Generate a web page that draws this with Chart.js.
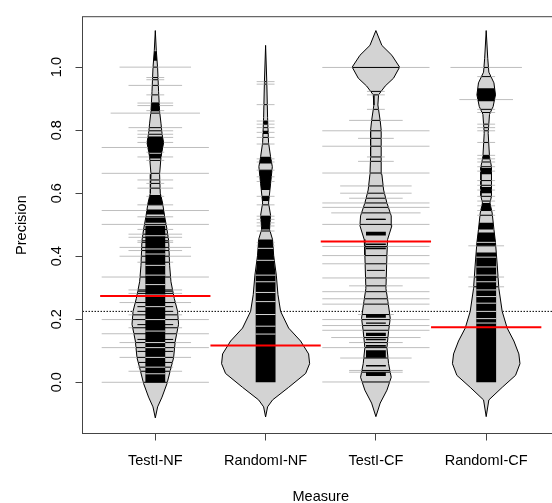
<!DOCTYPE html>
<html>
<head>
<meta charset="utf-8">
<script src="https://cdn.jsdelivr.net/npm/chart.js@4.4.1/dist/chart.umd.min.js"></script>
<style>
  html, body { margin: 0; padding: 0; background: #fff; overflow: hidden; }
  #wrap { width: 552px; height: 503px; overflow: hidden; }
</style>
</head>
<body>
<div id="wrap"><canvas id="beanChart" width="560" height="503"></canvas></div>
<script>
const categories = ['TestI-NF', 'RandomI-NF', 'TestI-CF', 'RandomI-CF'];
const yTicks = [0, 0.2, 0.4, 0.6, 0.8, 1.0];
const groupMeans = [0.274, 0.117, 0.447, 0.175];
const overallMean = 0.225;

// bean outline: precision value and half width of the density (x units)
const testNFBeanY = [-0.113, -0.078, -0.047, -0.004, 0.0375, 0.078, 0.131, 0.184, 0.225, 0.266, 0.319, 0.37, 0.45, 0.485, 0.528, 0.569, 0.6, 0.66, 0.716, 0.76, 0.79, 0.82, 0.86, 0.922, 0.997, 1.053, 1.116];
const testNFBeanW = [0, 0.021, 0.061, 0.106, 0.136, 0.166, 0.181, 0.211, 0.202, 0.172, 0.142, 0.130, 0.121, 0.106, 0.084, 0.066, 0.045, 0.039, 0.052, 0.075, 0.061, 0.052, 0.039, 0.030, 0.021, 0.009, 0];
const randomNFBeanY = [-0.11, -0.078, -0.056, -0.016, 0.028, 0.059, 0.09, 0.131, 0.172, 0.225, 0.278, 0.34, 0.403, 0.453, 0.485, 0.53, 0.569, 0.63, 0.684, 0.716, 0.76, 0.84, 0.95, 1.069];
const randomNFBeanW = [0, 0.018, 0.063, 0.209, 0.363, 0.399, 0.390, 0.317, 0.209, 0.136, 0.112, 0.097, 0.073, 0.063, 0.036, 0.045, 0.027, 0.045, 0.061, 0.045, 0.027, 0.018, 0.011, 0];
const testCFBeanY = [-0.109, -0.066, -0.025, 0.016, 0.059, 0.11, 0.162, 0.203, 0.256, 0.297, 0.403, 0.453, 0.497, 0.528, 0.569, 0.61, 0.66, 0.716, 0.8, 0.83, 0.88, 0.912, 0.94, 0.965, 1.0, 1.0375, 1.069, 1.116];
const testCFBeanW = [0, 0.039, 0.100, 0.139, 0.115, 0.100, 0.115, 0.130, 0.109, 0.091, 0.100, 0.106, 0.145, 0.139, 0.100, 0.070, 0.054, 0.048, 0.048, 0.039, 0.018, 0.024, 0.084, 0.160, 0.215, 0.145, 0.054, 0];
const randomCFBeanY = [-0.109, -0.056, -0.016, 0.022, 0.059, 0.09, 0.131, 0.172, 0.225, 0.297, 0.372, 0.444, 0.485, 0.537, 0.569, 0.59, 0.684, 0.716, 0.79, 0.85, 0.875, 0.912, 0.95, 0.984, 1.028, 1.116];
const randomCFBeanW = [0, 0.024, 0.145, 0.266, 0.306, 0.296, 0.251, 0.190, 0.145, 0.115, 0.100, 0.084, 0.070, 0.054, 0.034, 0.048, 0.048, 0.030, 0.018, 0.030, 0.063, 0.084, 0.070, 0.024, 0.014, 0];

// dense runs of beanlines (shown solid black inside the bean)
const testNFBlocks = [[0, 0.497], [0.506, 0.522], [0.532, 0.548], [0.563, 0.594], [0.71, 0.725], [0.73, 0.78], [0.86, 0.887], [1.02, 1.05]];
const randomNFBlocks = [[0, 0.453], [0.485, 0.528], [0.575, 0.59], [0.61, 0.673], [0.694, 0.716], [0.788, 0.798], [0.819, 0.829]];
const testCFBlocks = [[0.02, 0.032], [0.05, 0.055], [0.078, 0.102], [0.113, 0.118], [0.133, 0.138], [0.147, 0.157], [0.186, 0.19], [0.205, 0.215], [0.422, 0.428], [0.436, 0.44], [0.466, 0.478], [0.515, 0.519]];
const randomCFBlocks = [[0, 0.412], [0.434, 0.475], [0.485, 0.506], [0.547, 0.569], [0.6, 0.62], [0.66, 0.68], [0.709, 0.72], [0.892, 0.933]];

// light breaks seen inside the black runs
const testNFBreaks = [0.027, 0.048, 0.079, 0.11, 0.126, 0.1625, 0.199, 0.24, 0.277, 0.31, 0.34, 0.371, 0.407, 0.423, 0.465];
const randomNFBreaks = [0.153, 0.178, 0.215, 0.256, 0.285, 0.319, 0.34, 0.387, 0.425];
const testCFBreaks = [];
const randomCFBreaks = [0.188, 0.202, 0.225, 0.251, 0.272, 0.293, 0.319, 0.34, 0.366, 0.397, 0.444];

// single beanlines: value and number of ties (longer line = more ties)
const testNFLines = [0.0, 0.035, 0.048, 0.063, 0.079, 0.098, 0.11, 0.126, 0.136, 0.154, 0.173, 0.183, 0.199, 0.214, 0.225, 0.24, 0.253, 0.282, 0.289, 0.293, 0.334, 0.37, 0.381, 0.4, 0.418, 0.428, 0.444, 0.449, 0.46, 0.47, 0.485, 0.501, 0.525, 0.545, 0.563, 0.59, 0.616, 0.631, 0.642, 0.663, 0.704, 0.715, 0.73, 0.745, 0.761, 0.777, 0.787, 0.798, 0.808, 0.854, 0.862, 0.878, 0.886, 0.912, 0.942, 0.96, 0.967, 1.0];
const testNFTies = [6, 3, 2, 2, 4, 2, 6, 4, 2, 6, 3, 2, 6, 3, 2, 2, 4, 3, 2, 3, 6, 1, 2, 4, 3, 4, 2, 2, 3, 3, 2, 6, 2, 6, 2, 1, 2, 1, 2, 6, 1, 2, 1, 6, 2, 2, 2, 2, 3, 5, 1, 2, 2, 1, 3, 1, 1, 4];
const randomNFLines = [0.433, 0.444, 0.48, 0.496, 0.506, 0.517, 0.527, 0.563, 0.59, 0.637, 0.652, 0.673, 0.699, 0.709, 0.756, 0.777, 0.793, 0.808, 0.819, 0.829, 0.881, 0.946, 0.954];
const randomNFTies = [1, 1, 1, 1, 1, 1, 1, 1, 1, 1, 1, 1, 1, 1, 1, 1, 1, 1, 1, 1, 1, 1, 1];
const testCFLines = [0.001, 0.032, 0.0375, 0.077, 0.11, 0.126, 0.142, 0.165, 0.18, 0.199, 0.215, 0.248, 0.265, 0.2875, 0.306, 0.331, 0.355, 0.376, 0.402, 0.431, 0.475, 0.501, 0.517, 0.5375, 0.555, 0.569, 0.584, 0.6, 0.623, 0.664, 0.701, 0.715, 0.749, 0.774, 0.798, 0.831, 0.866, 0.912, 0.923, 0.999];
const testCFTies = [6, 3, 3, 4, 6, 3, 5, 6, 6, 6, 2, 6, 6, 6, 3, 6, 1, 6, 6, 6, 1, 6, 1, 5, 6, 6, 3, 4, 4, 6, 2, 1, 6, 2, 6, 3, 1, 1, 1, 6];
const randomCFLines = [0.188, 0.202, 0.225, 0.251, 0.272, 0.303, 0.319, 0.334, 0.366, 0.397, 0.433, 0.53, 0.545, 0.56, 0.575, 0.59, 0.61, 0.625, 0.64, 0.67, 0.684, 0.699, 0.709, 0.72, 0.761, 0.798, 0.808, 0.819, 0.856, 0.866, 0.897, 0.97, 0.999];
const randomCFTies = [1, 1, 1, 1, 1, 2, 1, 2, 1, 1, 2, 1, 1, 1, 1, 1, 1, 1, 1, 1, 1, 1, 1, 1, 1, 1, 1, 1, 1, 1, 3, 1, 4];

const beanYs = [testNFBeanY, randomNFBeanY, testCFBeanY, randomCFBeanY];
const beanWs = [testNFBeanW, randomNFBeanW, testCFBeanW, randomCFBeanW];
const blocks = [testNFBlocks, randomNFBlocks, testCFBlocks, randomCFBlocks];
const breaks = [testNFBreaks, randomNFBreaks, testCFBreaks, randomCFBreaks];
const lineVals = [testNFLines, randomNFLines, testCFLines, randomCFLines];
const lineTies = [testNFTies, randomNFTies, testCFTies, randomCFTies];

const tieLen = 0.081;   // half length of a beanline per tie
const blackCap = 0.09;  // max half width of the black core
const gap = {x: null, y: null};

function widthAt(ys, ws, y) {
    for (let i = 1; i < ys.length; i++) {
        if (y <= ys[i]) {
            const t = (y - ys[i - 1]) / (ys[i] - ys[i - 1]);
            return ws[i - 1] + t * (ws[i] - ws[i - 1]);
        }
    }
    return 0;
}

function beanShape(c, ys, ws) {
    const pts = [];
    for (let i = 0; i < ys.length; i++) pts.push({x: c + ws[i], y: ys[i]});
    for (let i = ys.length - 2; i >= 0; i--) pts.push({x: c - ws[i], y: ys[i]});
    return pts;
}

function blackShape(c, ys, ws, runs) {
    const pts = [];
    runs.forEach(([lo, hi]) => {
        const levels = [lo].concat(ys.filter(y => y > lo && y < hi), [hi]);
        const half = levels.map(y => Math.min(widthAt(ys, ws, y), blackCap));
        levels.forEach((y, i) => pts.push({x: c + half[i], y: y}));
        for (let i = levels.length - 1; i >= 0; i--) pts.push({x: c - half[i], y: levels[i]});
        pts.push(gap);
    });
    return pts;
}

function breakLines(c, ys, ws, vals) {
    const pts = [];
    vals.forEach(v => {
        const h = Math.min(widthAt(ys, ws, v), blackCap);
        pts.push({x: c - h, y: v}, {x: c + h, y: v}, gap);
    });
    return pts;
}

// full beanline (grey part shows outside the bean)
function tieLines(c, vals, ties) {
    const pts = [];
    vals.forEach((v, i) => {
        pts.push({x: c - ties[i] * tieLen, y: v}, {x: c + ties[i] * tieLen, y: v}, gap);
    });
    return pts;
}

// part of each beanline that lies inside the bean, drawn black
function innerLines(c, ys, ws, vals, ties) {
    const pts = [];
    vals.forEach((v, i) => {
        const h = Math.min(ties[i] * tieLen, widthAt(ys, ws, v));
        pts.push({x: c - h, y: v}, {x: c + h, y: v}, gap);
    });
    return pts;
}

const datasets = [];
categories.forEach((cat, i) => {
    const c = i + 1;
    datasets.push({
        label: cat + ' bean',
        data: beanShape(c, beanYs[i], beanWs[i]),
        borderColor: '#000',
        borderWidth: 1,
        backgroundColor: '#d3d3d3',
        fill: 'shape',
        order: 6
    });
    datasets.push({
        label: cat + ' lines',
        data: tieLines(c, lineVals[i], lineTies[i]),
        borderColor: '#bebebe',
        borderWidth: 1,
        order: 5
    });
    datasets.push({
        label: cat + ' inner',
        data: innerLines(c, beanYs[i], beanWs[i], lineVals[i], lineTies[i]),
        borderColor: '#000',
        borderWidth: 1,
        order: 4.5
    });
    datasets.push({
        label: cat + ' core',
        data: blackShape(c, beanYs[i], beanWs[i], blocks[i]),
        borderWidth: 0,
        borderColor: 'rgba(0,0,0,0)',
        backgroundColor: '#000',
        fill: 'shape',
        order: 4
    });
    datasets.push({
        label: cat + ' breaks',
        data: breakLines(c, beanYs[i], beanWs[i], breaks[i]),
        borderColor: '#d6d6d6',
        borderWidth: 1,
        order: 3
    });
});

const meanPts = [];
groupMeans.forEach((m, i) => {
    meanPts.push({x: i + 0.5, y: m}, {x: i + 1.5, y: m}, gap);
});
datasets.push({
    label: 'mean',
    data: meanPts,
    borderColor: '#ff0000',
    borderWidth: 2,
    order: 1
});
datasets.push({
    label: 'overall',
    data: [{x: 0.34, y: overallMean}, {x: 4.66, y: overallMean}],
    borderColor: '#000',
    borderWidth: 1,
    borderDash: [1.5, 1.5],
    order: 7
});

const boxPlugin = {
    id: 'box',
    afterDatasetsDraw(chart) {
        const {ctx, chartArea: a} = chart;
        ctx.save();
        ctx.strokeStyle = '#444';
        ctx.lineWidth = 1;
        ctx.strokeRect(a.left, a.top, a.right - a.left, a.bottom - a.top);
        ctx.restore();
    }
};

Chart.defaults.font.family = '"Liberation Sans", Arial, sans-serif';
Chart.defaults.font.size = 14.5;
Chart.defaults.color = '#000';

new Chart(document.getElementById('beanChart'), {
    type: 'scatter',
    data: {datasets: datasets},
    options: {
        responsive: false,
        animation: false,
        devicePixelRatio: 1,
        showLine: true,
        pointRadius: 0,
        tension: 0,
        layout: {padding: {top: 10.5, left: 0, right: 1, bottom: 0}},
        plugins: {
            legend: {display: false},
            tooltip: {enabled: false}
        },
        scales: {
            x: {
                type: 'linear',
                min: 0.34,
                max: 4.66,
                afterFit: s => { s.height = 69.5; },
                afterBuildTicks: s => { s.ticks = categories.map((c, i) => ({value: i + 1})); },
                border: {display: false},
                grid: {drawOnChartArea: false, drawTicks: true, tickLength: 7, tickColor: '#444'},
                ticks: {
                    autoSkip: false,
                    maxRotation: 0,
                    padding: 12,
                    callback: v => categories[Math.round(v) - 1]
                },
                title: {
                    display: true,
                    text: 'Measure',
                    font: {lineHeight: 0.8},
                    padding: {top: 0, bottom: 0.5}
                }
            },
            y: {
                min: -0.1625,
                max: 1.16,
                afterFit: s => { s.width = 82.5; },
                afterBuildTicks: s => { s.ticks = yTicks.map(v => ({value: v})); },
                border: {display: false},
                grid: {drawOnChartArea: false, drawTicks: true, tickLength: 7, tickColor: '#444'},
                ticks: {
                    autoSkip: false,
                    minRotation: 90,
                    maxRotation: 90,
                    crossAlign: 'center',
                    padding: 8,
                    callback: v => v.toFixed(1)
                },
                title: {
                    display: true,
                    text: 'Precision',
                    padding: {top: 13, bottom: 0}
                }
            }
        }
    },
    plugins: [boxPlugin]
});
</script>
</body>
</html>
